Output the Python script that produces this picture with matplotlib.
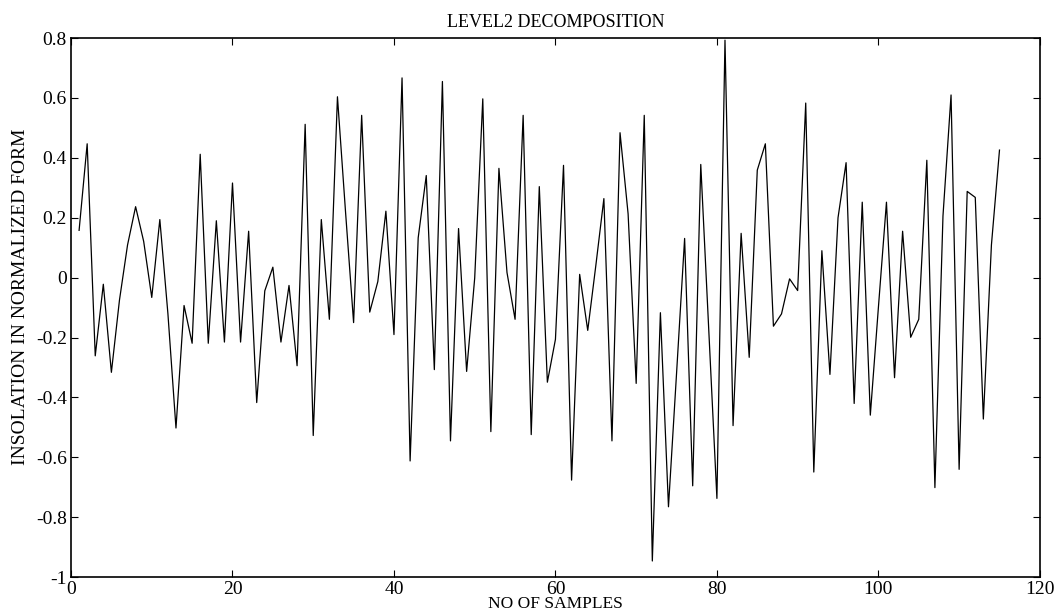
import matplotlib
matplotlib.use("Agg")
import matplotlib.pyplot as plt

# sample index 1..115 and level-2 detail values
samples = list(range(1, 116))
values = [
    0.158, 0.447, -0.261, -0.022, -0.316, -0.075, 0.109, 0.237, 0.121, -0.066,
    0.194, -0.12, -0.502, -0.093, -0.219, 0.412, -0.219, 0.19, -0.215, 0.316,
    -0.215, 0.155, -0.417, -0.044, 0.035, -0.215, -0.026, -0.294, 0.512, -0.527,
    0.194, -0.139, 0.604, 0.22, -0.150, 0.542, -0.115, -0.013, 0.222, -0.19,
    0.667, -0.612, 0.133, 0.341, -0.307, 0.655, -0.545, 0.164, -0.313, -0.001,
    0.597, -0.514, 0.365, 0.017, -0.139, 0.542, -0.524, 0.304, -0.349, -0.206,
    0.375, -0.676, 0.011, -0.176, 0.04, 0.264, -0.545, 0.484, 0.213, -0.353,
    0.542, -0.946, -0.117, -0.765, -0.32, 0.131, -0.695, 0.378, -0.18, -0.737,
    0.793, -0.494, 0.148, -0.266, 0.359, 0.447, -0.162, -0.121, -0.004, -0.043,
    0.583, -0.649, 0.090, -0.323, 0.2, 0.384, -0.420, 0.252, -0.459, -0.10,
    0.252, -0.334, 0.155, -0.199, -0.139, 0.392, -0.701, 0.206, 0.61, -0.640,
    0.288, 0.268, -0.472, 0.109, 0.426,
]

xticks = [0, 20, 40, 60, 80, 100, 120]
yticks = [-1, -0.8, -0.6, -0.4, -0.2, 0, 0.2, 0.4, 0.6, 0.8]
ytick_labels = ['-1', '-0.8', '-0.6', '-0.4', '-0.2', '0', '0.2', '0.4', '0.6', '0.8']

plt.rcParams['font.family'] = ['Liberation Serif', 'DejaVu Serif']

fig = plt.figure(figsize=(10.6, 6.14), dpi=100)
ax = fig.add_axes([0.067, 0.06, 0.914, 0.878])
ax.plot(samples, values, color='black', linewidth=0.9)

ax.set_xlim(0, 120)
ax.set_ylim(-1, 0.8)
ax.set_xticks(xticks)
ax.set_xticklabels([str(t) for t in xticks])
ax.set_yticks(yticks)
ax.set_yticklabels(ytick_labels)
ax.tick_params(direction='in', top=True, right=True, labelsize=14, length=5, pad=3)
for s in ax.spines.values():
    s.set_linewidth(1.2)

ax.set_title('LEVEL2 DECOMPOSITION', fontsize=13, pad=8)
ax.set_xlabel('NO OF SAMPLES', fontsize=12.5, labelpad=-1.5)
ax.set_ylabel('INSOLATION IN NORMALIZED FORM', fontsize=14)
ax.yaxis.set_label_coords(-0.043, 0.52)

fig.savefig('out.png', dpi=100)
